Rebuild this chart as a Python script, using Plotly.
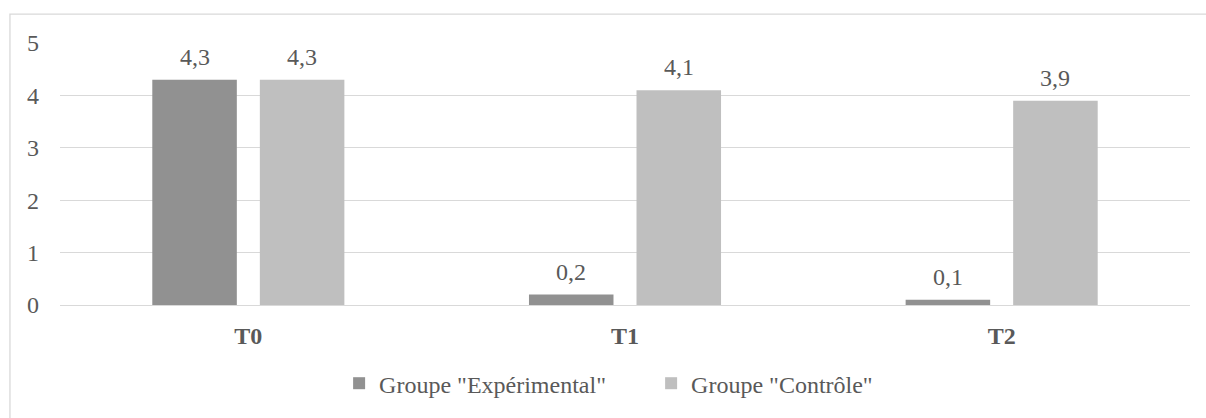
import plotly.graph_objects as go

categories = ["T0", "T1", "T2"]
experimental = [4.3, 0.2, 0.1]
controle = [4.3, 4.1, 3.9]
series_names = ['Groupe "Expérimental"', 'Groupe "Contrôle"']
y_ticks = [0, 1, 2, 3, 4, 5]

FONT = "Liberation Serif, Times New Roman, serif"
TXT = "#595959"
GRID = "#d9d9d9"
COL_EXP = "#919191"
COL_CTL = "#bfbfbf"
FS = 24

BARGAP = 0.429
GROUPGAP = 0.214

fig = go.Figure()
fig.add_trace(go.Bar(x=categories, y=experimental, name=series_names[0],
                     marker=dict(color=COL_EXP, line=dict(width=0))))
fig.add_trace(go.Bar(x=categories, y=controle, name=series_names[1],
                     marker=dict(color=COL_CTL, line=dict(width=0))))

# data labels
slot = (1 - BARGAP) / 2
offsets = [-slot / 2, slot / 2]
annotations = []
for vals, off in zip([experimental, controle], offsets):
    for i, v in enumerate(vals):
        annotations.append(dict(
            x=i + off, y=v, xref="x", yref="y",
            text=f"{v:.1f}".replace(".", ","),
            showarrow=False, yanchor="bottom", yshift=8,
            font=dict(family=FONT, size=FS, color=TXT)))

# chart border (outer frame)
shapes = [dict(type="rect", xref="paper", yref="paper",
               x0=-0.0443, x1=1.02, y0=-0.45, y1=1.11,
               line=dict(color=GRID, width=1.3), fillcolor="rgba(0,0,0,0)",
               layer="below")]

fig.update_layout(
    width=1206, height=418,
    margin=dict(l=60, r=16, t=43, b=111),
    paper_bgcolor="white", plot_bgcolor="white",
    barmode="group", bargap=BARGAP, bargroupgap=GROUPGAP,
    font=dict(family=FONT, size=FS, color=TXT),
    separators=", ",
    showlegend=True,
    legend=dict(orientation="h", x=0.247, xanchor="left", y=-0.30, yanchor="middle",
                font=dict(family=FONT, size=FS, color=TXT),
                bgcolor="rgba(0,0,0,0)", itemwidth=30, traceorder="normal",
                entrywidth=267, entrywidthmode="pixels"),
    annotations=annotations,
    shapes=shapes,
)
fig.update_xaxes(showgrid=False, showline=True, linecolor=GRID, linewidth=1.3,
                 ticks="", tickfont=dict(family=FONT, size=FS, color=TXT, weight="bold"),
                 ticklabelstandoff=9, zeroline=False)
fig.update_yaxes(range=[0, 5], tickvals=y_ticks, showgrid=True, gridcolor=GRID, gridwidth=1.3,
                 zeroline=False, showline=False, ticks="",
                 tickfont=dict(family=FONT, size=FS, color=TXT), ticklabelstandoff=20)

fig.write_html("out.html", config={"displayModeBar": False},
               post_script="document.body.style.margin='0';")
